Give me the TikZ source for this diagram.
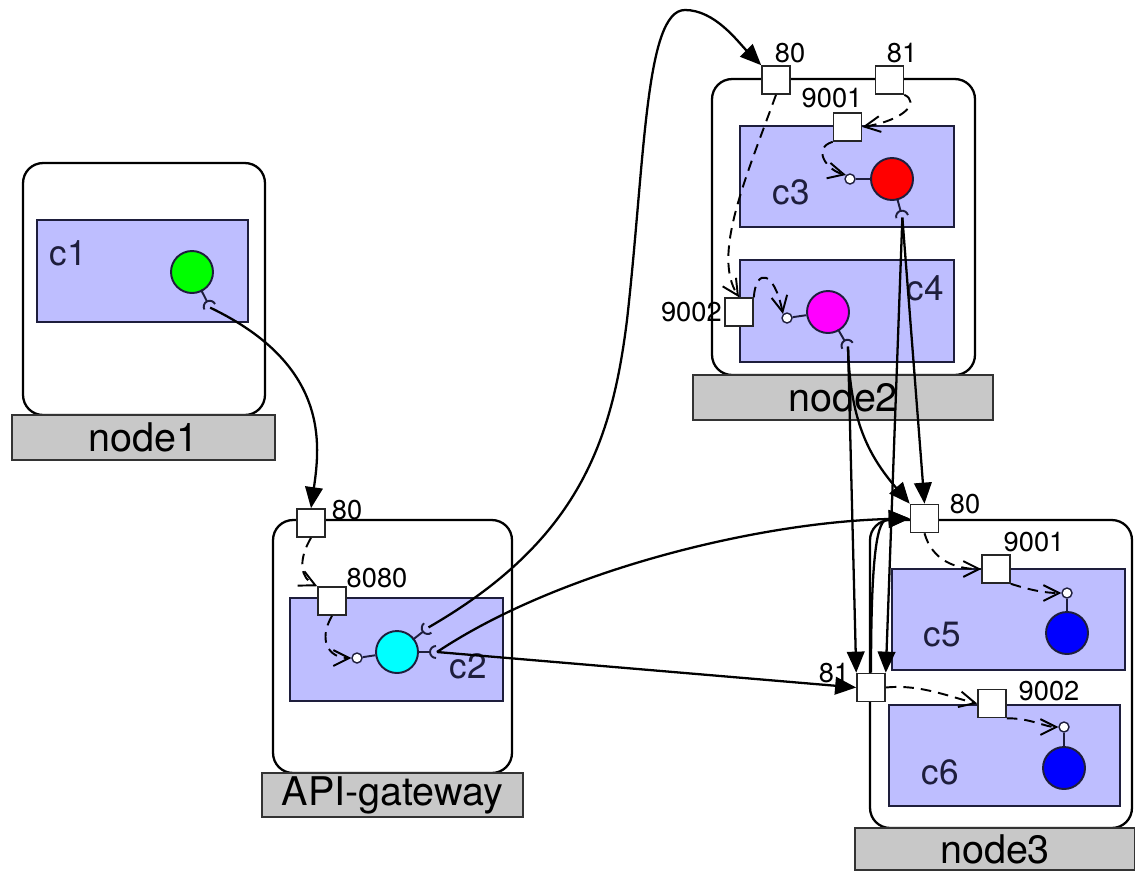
\documentclass[tikz,border=0pt]{standalone}
\usepackage{fontspec}
\setmainfont{TeX Gyre Heros}
\usetikzlibrary{arrows.meta,calc}

\definecolor{compfill}{RGB}{190,190,255}
\definecolor{compline}{RGB}{30,30,60}
\definecolor{barfill}{RGB}{200,200,200}

% stub + socket cup: #1 circle node, #2 direction (degrees), #3 name of the socket point
\newcommand\sockcup[3]{%
  \draw[stub] ($(#1)+(#2:20)$) -- ($(#1)+(#2:33)$);
  \draw[stub] ($(#1)+(#2:39)+(#2+90:6)$) arc[start angle=#2+90, delta angle=180, radius=6];
  \coordinate (#3) at ($(#1)+(#2:40)$);}

\tikzset{
  host/.style={draw=black, line width=1.3pt, fill=white, rounded corners=0.4cm, inner sep=0pt},
  hostbar/.style={draw=black!80, line width=0.8pt, fill=barfill, inner sep=0pt,
    font=\fontsize{22.5pt}{22.5pt}\selectfont},
  comp/.style={draw=compline, line width=1pt, fill=compfill, inner sep=0pt},
  complabel/.style={font=\fontsize{20pt}{20pt}\selectfont, text=compline, inner sep=0pt},
  port/.style={draw=black!85, line width=0.9pt, fill=white, minimum size=0.56cm, inner sep=0pt},
  portlabel/.style={font=\fontsize{15.5pt}{15.5pt}\selectfont, inner sep=0pt},
  proc/.style={circle, draw=compline, line width=1.1pt, minimum size=0.84cm, inner sep=0pt},
  endpt/.style={circle, draw=compline, line width=0.8pt, fill=white, minimum size=0.2cm, inner sep=0pt},
  stub/.style={draw=compline, line width=1.1pt},
  link/.style={line width=1.3pt, -{Triangle[length=12pt,width=10pt]}},
  hop/.style={line width=1.1pt, dash pattern=on 6pt off 4pt, -{Straight Barb[length=9pt,width=9pt]}},
}

\begin{document}
\begin{tikzpicture}[x=0.02cm, y=-0.02cm]
\useasboundingbox (0,0) rectangle (1135,870);

% ---------- node1 ----------
\node[host, minimum width=4.84cm, minimum height=5.04cm] (n1) at (144,289) {};
\node[hostbar, minimum width=5.26cm, minimum height=0.9cm] (n1bar) at (143.5,437.5) {node1};
\node[comp, minimum width=4.22cm, minimum height=2.04cm] (c1) at (142.5,271) {};
\node[complabel] (c1t) at (68,253) {c1};
\node[proc, fill={rgb,255:red,0;green,255;blue,0}] (g1) at (192,272) {};

% ---------- API-gateway ----------
\node[host, minimum width=4.78cm, minimum height=5.06cm] (na) at (392.5,646.5) {};
\node[hostbar, minimum width=5.22cm, minimum height=0.88cm] (nabar) at (392.5,795) {API-gateway};
\node[comp, minimum width=4.26cm, minimum height=2.06cm] (c2) at (396.5,649.5) {};
\node[complabel] (c2t) at (468,666) {c2};
\node[proc, fill={rgb,255:red,0;green,255;blue,255}] (g2) at (397,652) {};
\node[endpt] (eA) at (357,658) {};
\node[port] (pA80) at (311,523) {};
\node[portlabel] at (347,510) {80};
\node[port] (p8080) at (332,601) {};
\node[portlabel] at (377,578) {8080};

% ---------- node2 ----------
\node[host, minimum width=5.26cm, minimum height=5.92cm] (nb) at (843.5,227) {};
\node[hostbar, minimum width=6.0cm, minimum height=0.9cm] (nbbar) at (843,397.5) {node2};
\node[comp, minimum width=4.28cm, minimum height=2.02cm] (c3) at (847,176.5) {};
\node[complabel] (c3t) at (791,192) {c3};
\node[comp, minimum width=4.28cm, minimum height=2.04cm] (c4) at (847,311) {};
\node[complabel] (c4t) at (925,288) {c4};
\node[proc, fill={rgb,255:red,255;green,0;blue,0}] (g3) at (892,179) {};
\node[proc, fill={rgb,255:red,255;green,0;blue,255}] (g4) at (828,312) {};
\node[endpt] (eB) at (850,179) {};
\node[endpt] (eC) at (787,318) {};
\node[port] (pB80) at (776,80) {};
\node[portlabel] at (790,53) {80};
\node[port] (pB81) at (889.5,80) {};
\node[portlabel] at (902,53) {81};
\node[port] (pB9001) at (847.5,127) {};
\node[portlabel] at (832,98) {9001};
\node[port] (pB9002) at (739,312) {};
\node[portlabel, anchor=east] at (722,312) {9002};

% ---------- node3 ----------
\node[host, minimum width=5.24cm, minimum height=6.16cm] (nc) at (1001,674) {};
\node[hostbar, minimum width=5.6cm, minimum height=0.84cm] (ncbar) at (995,849) {node3};
\node[comp, minimum width=4.66cm, minimum height=2.02cm] (c5) at (1008.5,619.5) {};
\node[complabel] (c5t) at (942,635) {c5};
\node[comp, minimum width=4.62cm, minimum height=2.02cm] (c6) at (1004.5,755.5) {};
\node[complabel] (c6t) at (940,772) {c6};
\node[proc, fill={rgb,255:red,0;green,0;blue,255}] (g5) at (1067,633) {};
\node[proc, fill={rgb,255:red,0;green,0;blue,255}] (g6) at (1064,768) {};
\node[endpt] (eD) at (1067,593) {};
\node[endpt] (eF) at (1064,727) {};
\node[port] (pC80) at (924.5,518.5) {};
\node[portlabel] at (965,504) {80};
\node[port] (pC9001) at (996,569) {};
\node[portlabel] at (1034,542) {9001};
\node[port] (pC81) at (871,687.5) {};
\node[portlabel] at (834,673) {81};
\node[port] (pC9002) at (992,703.5) {};
\node[portlabel] at (1049,691) {9002};

% ---------- provided interfaces (lollipops) ----------
\draw[stub] (eA) -- (g2);
\draw[stub] (eB) -- (g3);
\draw[stub] (eC) -- (g4);
\draw[stub] (eD) -- (g5);
\draw[stub] (eF) -- (g6);

% ---------- required interfaces (sockets) ----------
\sockcup{g1}{63}{s1}
\sockcup{g2}{-38}{s2a}
\sockcup{g2}{0}{s2b}
\sockcup{g3}{75}{s3}
\sockcup{g4}{60}{s4}

% ---------- port forwarding inside hosts ----------
\draw[hop] (pA80.south) .. controls (298,560) and (300,578) .. (p8080.north west);
\draw[hop] (p8080.south) .. controls (318,640) and (328,658) .. (eA.west);

\draw[hop] (pB80.south) .. controls (745,180) and (712,255) .. (pB9002.north);
\draw[hop] (pB81.south east) .. controls (920,102) and (905,120) .. (pB9001.east);
\draw[hop] (pB9001.south west) .. controls (812,148) and (826,170) .. (eB.north west);
\draw[hop] (pB9002.north east) .. controls (756,268) and (774,270) .. (eC.north west);

\draw[hop] (pC80.south) .. controls (932,560) and (955,569) .. (pC9001.west);
\draw[hop] (pC9001.south east) .. controls (1030,590) and (1045,593) .. (eD.west);
\draw[hop] (pC81.east) .. controls (920,684) and (950,697) .. (pC9002.west);
\draw[hop] (pC9002.south east) .. controls (1030,718) and (1045,727) .. (eF.west);

% ---------- connections between hosts ----------
\draw[link] (s1) .. controls (330,365) and (320,445) .. (pA80.north);
\draw[link] (s2a) .. controls (580,540) and (612,440) .. (627,320)
  .. controls (645,160) and (645,10) .. (685,10)
  .. controls (715,10) and (738,42) .. (pB80.north west);
\draw[link] (s2b) .. controls (560,570) and (760,522) .. (pC80.west);
\draw[link] (s2b) -- (pC81.west);
\draw[link] (s3) -- (pC80.north);
\draw[link] (s3) -- (pC81.north east);
\draw[link] (s4) .. controls (850,420) and (868,455) .. (pC80.north west);
\draw[link] (s4) -- (pC81.north west);
\draw[link] (pC81.north) .. controls (871,530) and (880,519) .. (pC80.west);
\end{tikzpicture}
\end{document}
